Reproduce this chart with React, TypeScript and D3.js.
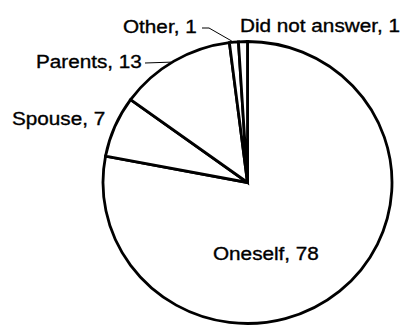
import React from "react";
import * as d3 from "d3";

const categories = ["Oneself", "Spouse", "Parents", "Other", "Did not answer"];
const values = [78, 7, 13, 1, 1];

const W = 405;
const H = 325;
const cx = 247.5;
const cy = 182.5;
const rx = 144.5;
const ry = 141;

// label layout: [x, y] for text start (baseline)
const labelPos: Record<string, [number, number]> = {
  Oneself: [213, 260],
  Spouse: [12, 125],
  Parents: [36, 68],
  Other: [123, 33],
  "Did not answer": [240, 32],
};

export default function App() {
  const data = categories.map((c, i) => ({ name: c, value: values[i] }));
  const pie = d3
    .pie<{ name: string; value: number }>()
    .sort(null)
    .value((d) => d.value)
    .startAngle(0)
    .endAngle(2 * Math.PI);
  const arcs = pie(data);
  const arcGen = d3
    .arc<d3.PieArcDatum<{ name: string; value: number }>>()
    .innerRadius(0)
    .outerRadius(rx);

  const sy = ry / rx;
  const pt = (a: number) => [cx + rx * Math.sin(a), cy - ry * Math.cos(a)];

  const parents = arcs.find((a) => a.data.name === "Parents")!;
  const other = arcs.find((a) => a.data.name === "Other")!;
  const pMid = (parents.startAngle + parents.endAngle) / 2;
  const oMid = (other.startAngle + other.endAngle) / 2;
  const pP = pt(pMid);
  const oP = pt(oMid);

  const fs = 18.5;
  const sx = 1.12;

  return (
    <svg
      width={W}
      height={H}
      style={{ position: "absolute", left: 0, top: 0, background: "#fff" }}
    >
      <g transform={`translate(${cx},${cy}) scale(1,${sy})`}>
        {arcs.map((a) => (
          <path
            key={a.data.name}
            d={arcGen(a) || ""}
            fill="#fff"
            stroke="#000"
            strokeWidth={2.8}
            strokeLinejoin="miter"
            vectorEffect="non-scaling-stroke"
          />
        ))}
      </g>
      <path
        d={`M145,63 L${pP[0] - 3},${pP[1] + 1}`}
        fill="none"
        stroke="#000"
        strokeWidth={1}
      />
      <path
        d={`M202,28 L209,28 L${oP[0] - 2},${oP[1] - 1}`}
        fill="none"
        stroke="#000"
        strokeWidth={1}
      />
      {data.map((d) => {
        const [x, y] = labelPos[d.name];
        return (
          <text
            key={d.name}
            transform={`translate(${x},${y}) scale(${sx},1)`}
            fontFamily="Liberation Sans, Arial, sans-serif"
            fontSize={fs}
            fill="#000"
            stroke="#000"
            strokeWidth={0.35}
          >
            {`${d.name}, ${d.value}`}
          </text>
        );
      })}
    </svg>
  );
}
